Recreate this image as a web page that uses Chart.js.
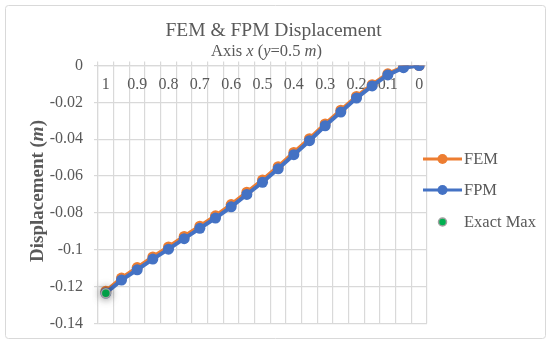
<!DOCTYPE html>
<html>
<head>
<meta charset="utf-8">
<script src="https://cdn.jsdelivr.net/npm/chart.js@4.4.1/dist/chart.umd.min.js"></script>
<style>
  body { margin: 0; background: #fff; }
  canvas { display: block; }
</style>
</head>
<body>
<canvas id="chart" width="550" height="344"></canvas>
<script>
const categories = ['1', '0.95', '0.9', '0.85', '0.8', '0.75', '0.7', '0.65', '0.6', '0.55', '0.5',
  '0.45', '0.4', '0.35', '0.3', '0.25', '0.2', '0.15', '0.1', '0.05', '0'];

const femValues = [-0.1226, -0.1154, -0.1097, -0.1039, -0.0985, -0.0928, -0.0872, -0.0816, -0.0755, -0.0688, -0.0622,
  -0.0549, -0.0472, -0.0397, -0.0317, -0.0243, -0.0168, -0.0104, -0.0045, -0.0008, 0];

const fpmValues = [-0.1235, -0.1165, -0.1109, -0.1051, -0.0997, -0.0940, -0.0884, -0.0828, -0.0767, -0.0700, -0.0634,
  -0.0561, -0.0484, -0.0408, -0.0327, -0.0253, -0.0177, -0.0111, -0.0051, -0.0012, 0];

const exactMaxValues = [-0.1237];

const yTicks = [0, -0.02, -0.04, -0.06, -0.08, -0.1, -0.12, -0.14];

const textColor = '#595959';
const gridColor = '#d9d9d9';
const serif = "'Liberation Serif', 'Times New Roman', serif";

// draws a line of text made of normal / italic pieces
const drawParts = (ctx, parts, cx, y, size, weight) => {
  let total = 0;
  parts.forEach(p => {
    ctx.font = (p[1] ? 'italic ' : '') + weight + ' ' + size + 'px ' + serif;
    total += ctx.measureText(p[0]).width;
  });
  let x = cx - total / 2;
  parts.forEach(p => {
    ctx.font = (p[1] ? 'italic ' : '') + weight + ' ' + size + 'px ' + serif;
    ctx.fillText(p[0], x, y);
    x += ctx.measureText(p[0]).width;
  });
};

const legendItems = [
  { label: 'FEM', color: '#ed7d31', line: true, y: 159 },
  { label: 'FPM', color: '#4472c4', line: true, y: 190 },
  { label: 'Exact Max', color: '#00b050', line: false, y: 222 }
];

const decorations = {
  id: 'decorations',
  beforeDraw: (chart) => {
    const ctx = chart.ctx;
    ctx.save();
    ctx.fillStyle = '#fff';
    ctx.fillRect(0, 0, chart.width, chart.height);
    ctx.strokeStyle = gridColor;
    ctx.lineWidth = 1;
    ctx.beginPath();
    ctx.roundRect(5.5, 5.5, 540, 333, 3);
    ctx.stroke();
    ctx.restore();
  },
  beforeDatasetsDraw: (chart) => {
    // category labels sit inside the plot, under the top axis
    const ctx = chart.ctx;
    const xScale = chart.scales.x;
    ctx.save();
    ctx.fillStyle = textColor;
    ctx.font = '16px ' + serif;
    ctx.textAlign = 'center';
    ctx.textBaseline = 'middle';
    categories.forEach((c, i) => {
      if (i % 2 === 0) ctx.fillText(c, xScale.getPixelForValue(i), 85);
    });
    ctx.restore();
  },
  beforeDatasetDraw: (chart, args) => {
    if (args.index === 2) {
      chart.ctx.save();
      chart.ctx.shadowColor = 'rgba(0,0,0,0.55)';
      chart.ctx.shadowBlur = 9;
    }
  },
  afterDatasetDraw: (chart, args) => {
    if (args.index === 2) chart.ctx.restore();
  },
  afterDraw: (chart) => {
    const ctx = chart.ctx;
    ctx.save();
    ctx.fillStyle = textColor;
    ctx.textBaseline = 'alphabetic';
    ctx.textAlign = 'left';

    drawParts(ctx, [['FEM & FPM Displacement', false]], 273.5, 36, 19.5, 'normal');
    drawParts(ctx, [['Axis ', false], ['x', true], [' (', false], ['y', true], ['=0.5 ', false], ['m', true], [')', false]],
      266.5, 56, 16.5, 'normal');

    ctx.save();
    ctx.translate(38, 191);
    ctx.rotate(-Math.PI / 2);
    ctx.textBaseline = 'middle';
    drawParts(ctx, [['Displacement (', false], ['m', true], [')', false]], 0, 0, 19, 'bold');
    ctx.restore();

    // legend
    legendItems.forEach(item => {
      if (item.line) {
        ctx.strokeStyle = item.color;
        ctx.lineWidth = 3;
        ctx.beginPath();
        ctx.moveTo(423, item.y);
        ctx.lineTo(462, item.y);
        ctx.stroke();
        ctx.fillStyle = item.color;
        ctx.beginPath();
        ctx.arc(442.5, item.y, 5, 0, Math.PI * 2);
        ctx.fill();
      } else {
        ctx.fillStyle = item.color;
        ctx.strokeStyle = '#a0a0a0';
        ctx.lineWidth = 1.5;
        ctx.beginPath();
        ctx.arc(442.5, item.y, 4, 0, Math.PI * 2);
        ctx.fill();
        ctx.stroke();
      }
      ctx.fillStyle = textColor;
      ctx.font = '16.5px ' + serif;
      ctx.textBaseline = 'middle';
      ctx.fillText(item.label, 464, item.y + 1);
    });
    ctx.restore();
  }
};

const ctx = document.getElementById('chart').getContext('2d');
new Chart(ctx, {
  type: 'line',
  data: {
    labels: categories,
    datasets: [
      {
        label: 'FEM',
        data: femValues,
        borderColor: '#ed7d31',
        backgroundColor: '#ed7d31',
        borderWidth: 4,
        pointRadius: 5.5,
        pointBorderWidth: 0,
        order: 3
      },
      {
        label: 'FPM',
        data: fpmValues,
        borderColor: '#4472c4',
        backgroundColor: '#4472c4',
        borderWidth: 4,
        pointRadius: 5.5,
        pointBorderWidth: 0,
        order: 2
      },
      {
        label: 'Exact Max',
        data: exactMaxValues,
        borderColor: '#a0a0a0',
        backgroundColor: '#00b050',
        showLine: false,
        pointRadius: 4.5,
        pointBorderWidth: 1.5,
        order: 1
      }
    ]
  },
  plugins: [decorations],
  options: {
    responsive: false,
    animation: false,
    devicePixelRatio: 1,
    layout: {
      padding: { top: 61.5, left: 0, right: 123, bottom: 20 }
    },
    plugins: {
      legend: { display: false },
      title: { display: false },
      tooltip: { enabled: false }
    },
    scales: {
      x: {
        position: 'top',
        offset: true,
        ticks: { display: false },
        grid: {
          offset: true,
          color: gridColor,
          lineWidth: 1.2,
          tickLength: 4
        },
        border: { color: gridColor, width: 1.2 },
        afterFit: (scale) => { scale.height = 4; }
      },
      y: {
        min: -0.14,
        max: 0,
        afterBuildTicks: (scale) => {
          scale.ticks = yTicks.map(v => ({ value: v }));
        },
        ticks: {
          color: textColor,
          font: { family: serif, size: 16 },
          padding: 11,
          callback: (v) => String(Number(Number(v).toFixed(2)))
        },
        grid: {
          color: gridColor,
          lineWidth: 1.2,
          tickLength: 4
        },
        border: { color: gridColor, width: 1.2 },
        afterFit: (scale) => { scale.width = 98; }
      }
    }
  }
});
</script>
</body>
</html>
